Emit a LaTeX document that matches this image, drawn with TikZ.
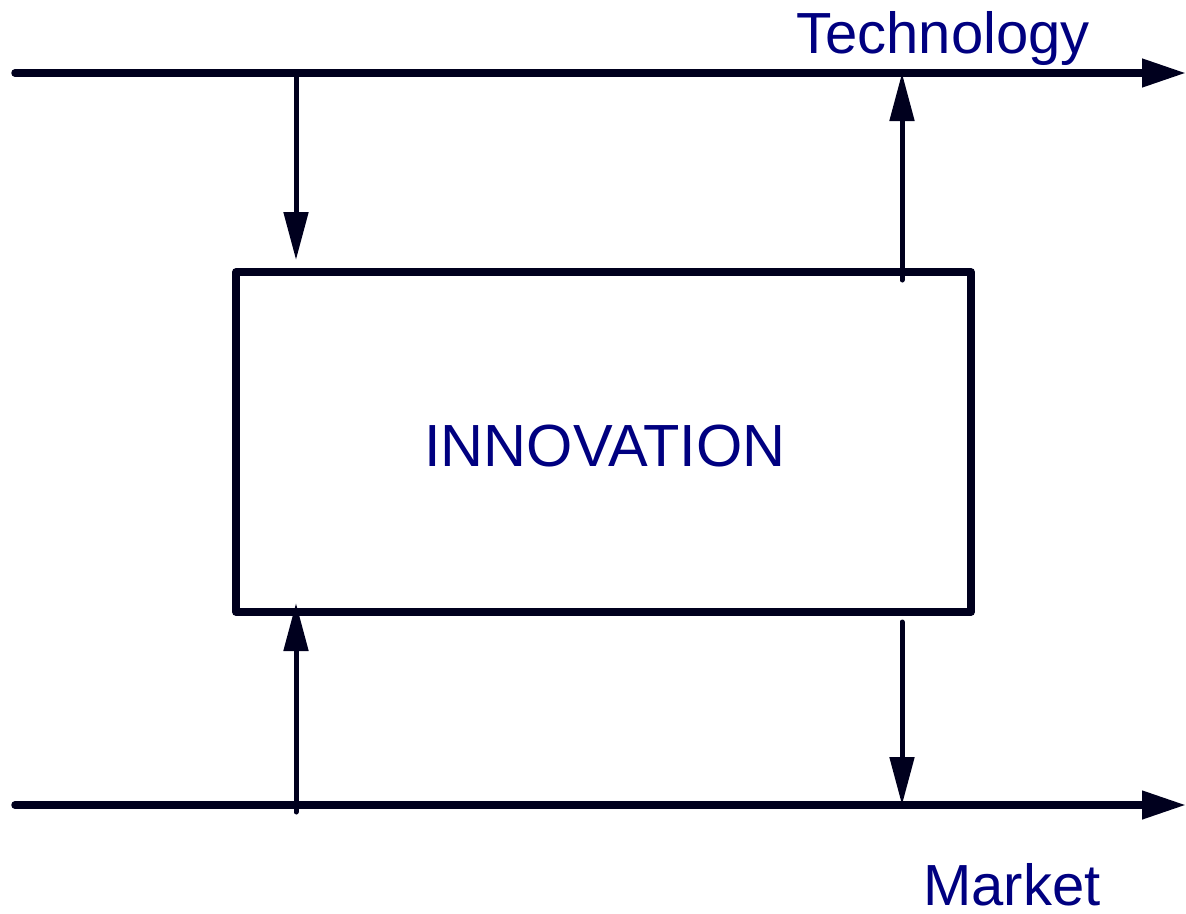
\documentclass[tikz,border=0pt]{standalone}
\usepackage{fontspec}
\setmainfont{Liberation Sans}
\usetikzlibrary{arrows.meta}
\definecolor{linecol}{RGB}{0,0,30}
\definecolor{txtcol}{RGB}{0,0,128}
\tikzset{
  mainline/.style={draw=linecol, line width=7.5pt, line cap=round, -{Triangle[length=44pt,width=27pt]}},
  vline/.style={draw=linecol, line width=5pt, line cap=round, -{Triangle[length=48pt,width=24pt]}},
  boxstyle/.style={draw=linecol, line width=7.5pt, line join=round, minimum width=735pt, minimum height=340pt, inner sep=0pt},
  lab/.style={text=txtcol, font=\fontsize{58}{62}\selectfont, inner sep=0pt, anchor=base}
}
\begin{document}
\begin{tikzpicture}[x=1pt,y=-1pt]
\useasboundingbox (0,0) rectangle (1186,913);
% box
\node[boxstyle] (inno) at (603.5,442) {};
\node[text=txtcol, font=\fontsize{59.5}{62}\selectfont, inner sep=0pt, anchor=base] (innotext) at (605,466) {INNOVATION};
% main lines
\coordinate (tl) at (15,73);
\coordinate (tr) at (1186,73);
\coordinate (bl) at (15,805);
\coordinate (br) at (1186,805);
\draw[mainline] (tl) -- (tr);
\draw[mainline] (bl) -- (br);
% vertical arrows
\coordinate (a1s) at (296,73);
\coordinate (a1e) at (296,260);
\coordinate (a2s) at (902,280);
\coordinate (a2e) at (902,73);
\coordinate (a3s) at (296,812);
\coordinate (a3e) at (296,603);
\coordinate (a4s) at (902,622);
\coordinate (a4e) at (902,805);
\draw[vline] (a1s) -- (a1e);
\draw[vline] (a2s) -- (a2e);
\draw[vline] (a3s) -- (a3e);
\draw[vline] (a4s) -- (a4e);
% labels
\node[lab] (tech) at (943,53) {Technology};
\node[lab] (mkt) at (1012,905) {Market};
\end{tikzpicture}
\end{document}
